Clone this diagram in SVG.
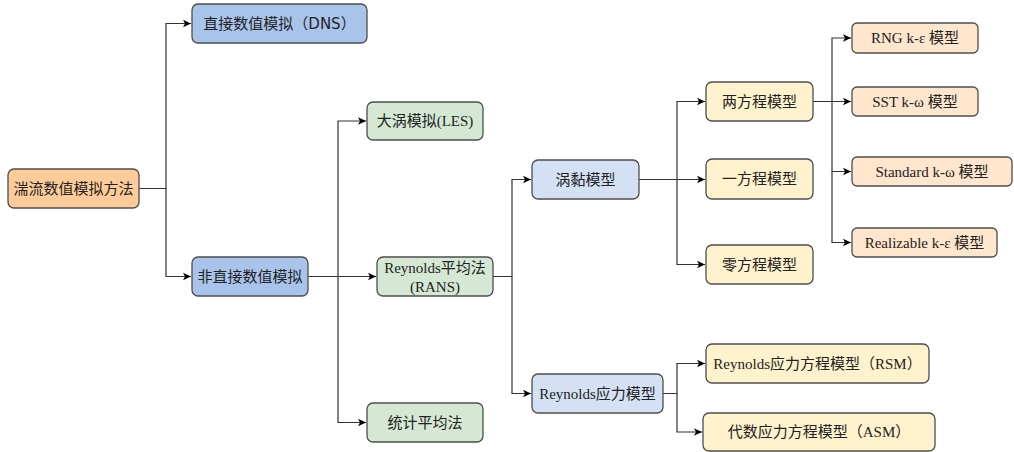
<svg xmlns="http://www.w3.org/2000/svg" width="1014" height="452" viewBox="0 0 1014 452">
<defs>
<marker id="arr" markerWidth="10" markerHeight="10" refX="9" refY="5" orient="auto" markerUnits="userSpaceOnUse">
<path d="M1,1.2 L9,5 L1,8.8 L3,5 Z" fill="#000"/>
</marker>
<style>
.n rect{stroke:#4d4d4d;stroke-width:1.3}
.or{fill:#ffcc99}.bl{fill:#a9c4eb}.gr{fill:#d5e8d4}.lb{fill:#d4e1f5}.ye{fill:#fff2cc}.pe{fill:#ffe6cc}
.s{font-family:"DejaVu Sans","Noto Sans CJK SC",sans-serif;font-size:15px;fill:#222;text-anchor:middle;dominant-baseline:central}
.t{font-family:"Liberation Serif","Noto Sans CJK SC",serif;font-size:15px;fill:#222;text-anchor:middle;dominant-baseline:central}
.c path{fill:none;stroke:#333;stroke-width:1.2}
</style>
</defs>
<rect width="1014" height="452" fill="#fff"/>
<g class="c">
<path d="M139,188.5 H166 V23.5 H191" marker-end="url(#arr)"/>
<path d="M166,188.5 V276.5 H191" marker-end="url(#arr)"/>
<path d="M308,276.5 H376" marker-end="url(#arr)"/>
<path d="M338,276.5 V121 H366" marker-end="url(#arr)"/>
<path d="M338,276.5 V422.5 H366" marker-end="url(#arr)"/>
<path d="M493,276.5 H512 V179.5 H531" marker-end="url(#arr)"/>
<path d="M512,276.5 V393.5 H531" marker-end="url(#arr)"/>
<path d="M639,179.5 H705" marker-end="url(#arr)"/>
<path d="M677,179.5 V101.5 H705" marker-end="url(#arr)"/>
<path d="M677,179.5 V264.5 H705" marker-end="url(#arr)"/>
<path d="M813,101.5 H851" marker-end="url(#arr)"/>
<path d="M832,101.5 V38 H851" marker-end="url(#arr)"/>
<path d="M832,101.5 V171.5 H851" marker-end="url(#arr)"/>
<path d="M832,171.5 V242.5 H851" marker-end="url(#arr)"/>
<path d="M663,393.5 H677 V363.5 H705" marker-end="url(#arr)"/>
<path d="M677,393.5 V432 H702" marker-end="url(#arr)"/>
</g>
<g id="n-root" class="n"><rect class="or" x="8" y="169" width="131" height="39" rx="6"/><text class="s" x="73.5" y="188.5">湍流数值模拟方法</text></g>
<g id="n-dns" class="n"><rect class="bl" x="192" y="4" width="175" height="39" rx="6"/><text class="s" x="279.5" y="23.5">直接数值模拟（DNS）</text></g>
<g id="n-indirect" class="n"><rect class="bl" x="192" y="257" width="116" height="39" rx="6"/><text class="s" x="250" y="276.5">非直接数值模拟</text></g>
<g id="n-les" class="n"><rect class="gr" x="367" y="102" width="116" height="38" rx="6"/><text class="t" x="425" y="121">大涡模拟(LES)</text></g>
<g id="n-rans" class="n"><rect class="gr" x="377" y="257" width="116" height="39" rx="6"/><text class="t" x="435" y="267.5">Reynolds平均法</text><text class="t" x="435" y="287">(RANS)</text></g>
<g id="n-stat" class="n"><rect class="gr" x="367" y="403" width="116" height="39" rx="6"/><text class="s" x="425" y="422.5">统计平均法</text></g>
<g id="n-eddy" class="n"><rect class="lb" x="532" y="160" width="107" height="39" rx="6"/><text class="s" x="585.5" y="179.5">涡黏模型</text></g>
<g id="n-rsm-group" class="n"><rect class="lb" x="532" y="374" width="131" height="39" rx="6"/><text class="t" x="597.5" y="393.5">Reynolds应力模型</text></g>
<g id="n-two" class="n"><rect class="ye" x="706" y="82" width="107" height="39" rx="6"/><text class="s" x="759.5" y="101.5">两方程模型</text></g>
<g id="n-one" class="n"><rect class="ye" x="706" y="159" width="107" height="40" rx="6"/><text class="s" x="759.5" y="179">一方程模型</text></g>
<g id="n-zero" class="n"><rect class="ye" x="706" y="245" width="107" height="39" rx="6"/><text class="s" x="759.5" y="264.5">零方程模型</text></g>
<g id="n-rng" class="n"><rect class="pe" x="852" y="23" width="126" height="30" rx="5"/><text class="t" x="915" y="38">RNG k-ε 模型</text></g>
<g id="n-sst" class="n"><rect class="pe" x="852" y="87" width="126" height="29" rx="5"/><text class="t" x="915" y="101.5">SST k-ω 模型</text></g>
<g id="n-std" class="n"><rect class="pe" x="852" y="157" width="160" height="29" rx="5"/><text class="t" x="932" y="171.5">Standard k-ω 模型</text></g>
<g id="n-real" class="n"><rect class="pe" x="852" y="228" width="145" height="29" rx="5"/><text class="t" x="924.5" y="242.5">Realizable k-ε 模型</text></g>
<g id="n-rsm" class="n"><rect class="ye" x="706" y="344" width="223" height="39" rx="6"/><text class="t" x="817.5" y="363.5">Reynolds应力方程模型（RSM）</text></g>
<g id="n-asm" class="n"><rect class="ye" x="703" y="413" width="232" height="38" rx="6"/><text class="t" x="819" y="432">代数应力方程模型（ASM）</text></g>
</svg>
